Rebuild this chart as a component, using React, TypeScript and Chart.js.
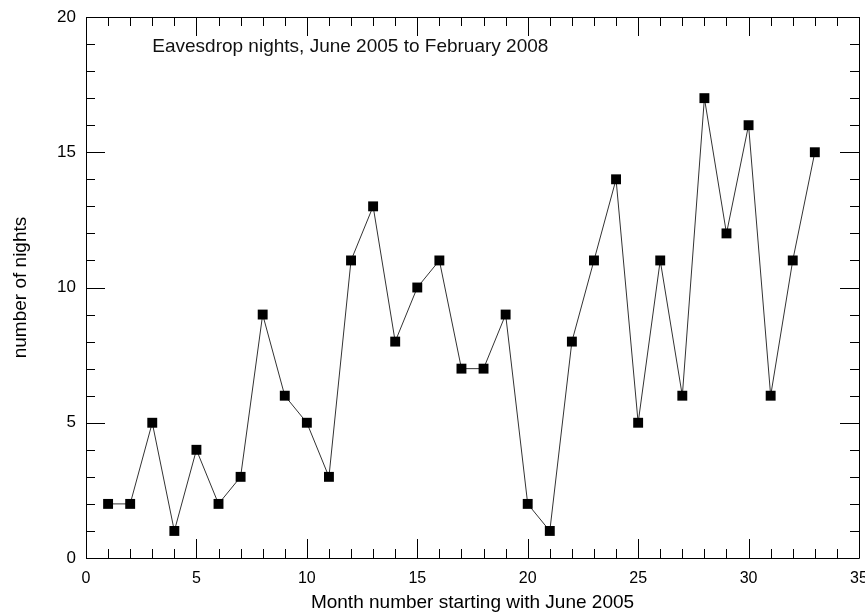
import React, { useEffect, useRef } from "react";
import { Chart, registerables } from "chart.js";

Chart.register(...registerables);

const months = [1, 2, 3, 4, 5, 6, 7, 8, 9, 10, 11, 12, 13, 14, 15, 16, 17, 18, 19, 20, 21, 22, 23, 24, 25, 26, 27, 28, 29, 30, 31, 32, 33];
const nights = [2, 2, 5, 1, 4, 2, 3, 9, 6, 5, 3, 11, 13, 8, 10, 11, 7, 7, 9, 2, 1, 8, 11, 14, 5, 11, 6, 17, 12, 16, 6, 11, 15];
const xTitle = "Month number starting with June 2005";
const yTitle = "number of nights";
const noteText = "Eavesdrop nights, June 2005 to February 2008";
const FONT = "'Liberation Sans', Arial, Helvetica, sans-serif";

const tickPlugin = {
  id: "inwardTicks",
  afterDraw(chart: any) {
    const { ctx, chartArea } = chart;
    const xs = chart.scales.x;
    const ys = chart.scales.y;
    ctx.save();
    ctx.strokeStyle = "#000";
    ctx.lineWidth = 1;
    ctx.beginPath();
    ctx.rect(chartArea.left + 0.5, chartArea.top + 0.5, chartArea.right - chartArea.left, chartArea.bottom - chartArea.top);
    ctx.stroke();
    for (let v = 0; v <= 35; v++) {
      const len = v % 5 === 0 ? 19 : 9;
      const px = Math.round(xs.getPixelForValue(v)) + 0.5;
      ctx.beginPath();
      ctx.moveTo(px, chartArea.bottom);
      ctx.lineTo(px, chartArea.bottom - len);
      ctx.moveTo(px, chartArea.top);
      ctx.lineTo(px, chartArea.top + len);
      ctx.stroke();
    }
    for (let v = 0; v <= 20; v++) {
      const len = v % 5 === 0 ? 19 : 9;
      const py = Math.round(ys.getPixelForValue(v)) + 0.5;
      ctx.beginPath();
      ctx.moveTo(chartArea.left, py);
      ctx.lineTo(chartArea.left + len, py);
      ctx.moveTo(chartArea.right, py);
      ctx.lineTo(chartArea.right - len, py);
      ctx.stroke();
    }
    ctx.fillStyle = "#111";
    ctx.font = `19px ${FONT}`;
    ctx.textBaseline = "middle";
    ctx.textAlign = "left";
    ctx.fillText(noteText, xs.getPixelForValue(3.0), ys.getPixelForValue(18.9));
    ctx.restore();
  },
};

export default function App() {
  const ref = useRef<HTMLCanvasElement>(null);
  useEffect(() => {
    document.body.style.margin = "0";
    const chart = new Chart(ref.current!, {
      type: "line",
      data: {
        datasets: [
          {
            data: months.map((m, i) => ({ x: m, y: nights[i] })),
            borderColor: "#333",
            borderWidth: 1,
            pointStyle: "rect",
            pointRadius: 7,
            pointBackgroundColor: "#000",
            pointBorderColor: "#000",
            pointBorderWidth: 0,
            tension: 0,
          },
        ],
      },
      plugins: [tickPlugin],
      options: {
        responsive: false,
        animation: false,
        maintainAspectRatio: false,
        layout: { padding: { top: 17, right: 6, left: 0, bottom: 0 }, autoPadding: false },
        plugins: { legend: { display: false }, tooltip: { enabled: false } },
        scales: {
          x: {
            type: "linear",
            min: 0,
            max: 35,
            grid: { display: false, drawTicks: false },
            border: { display: false },
            ticks: { stepSize: 5, color: "#000", padding: 11, maxRotation: 0, font: { family: FONT, size: 16 } },
            title: { display: true, text: xTitle, color: "#000", font: { family: FONT, size: 19 }, padding: { top: 0, bottom: 1 } },
            afterFit: (s: any) => { s.height = 57; s.paddingLeft = 0; s.paddingRight = 0; },
          },
          y: {
            min: 0,
            max: 20,
            grid: { display: false, drawTicks: false },
            border: { display: false },
            ticks: { stepSize: 5, color: "#000", padding: 10, font: { family: FONT, size: 17 } },
            title: { display: true, text: yTitle, color: "#000", font: { family: FONT, size: 19 }, padding: { top: 9, bottom: 0 } },
            afterFit: (s: any) => { s.width = 86; s.paddingTop = 0; s.paddingBottom = 0; },
          },
        },
      },
    });
    return () => chart.destroy();
  }, []);
  return <canvas ref={ref} width={865} height={615} style={{ display: "block" }} />;
}
